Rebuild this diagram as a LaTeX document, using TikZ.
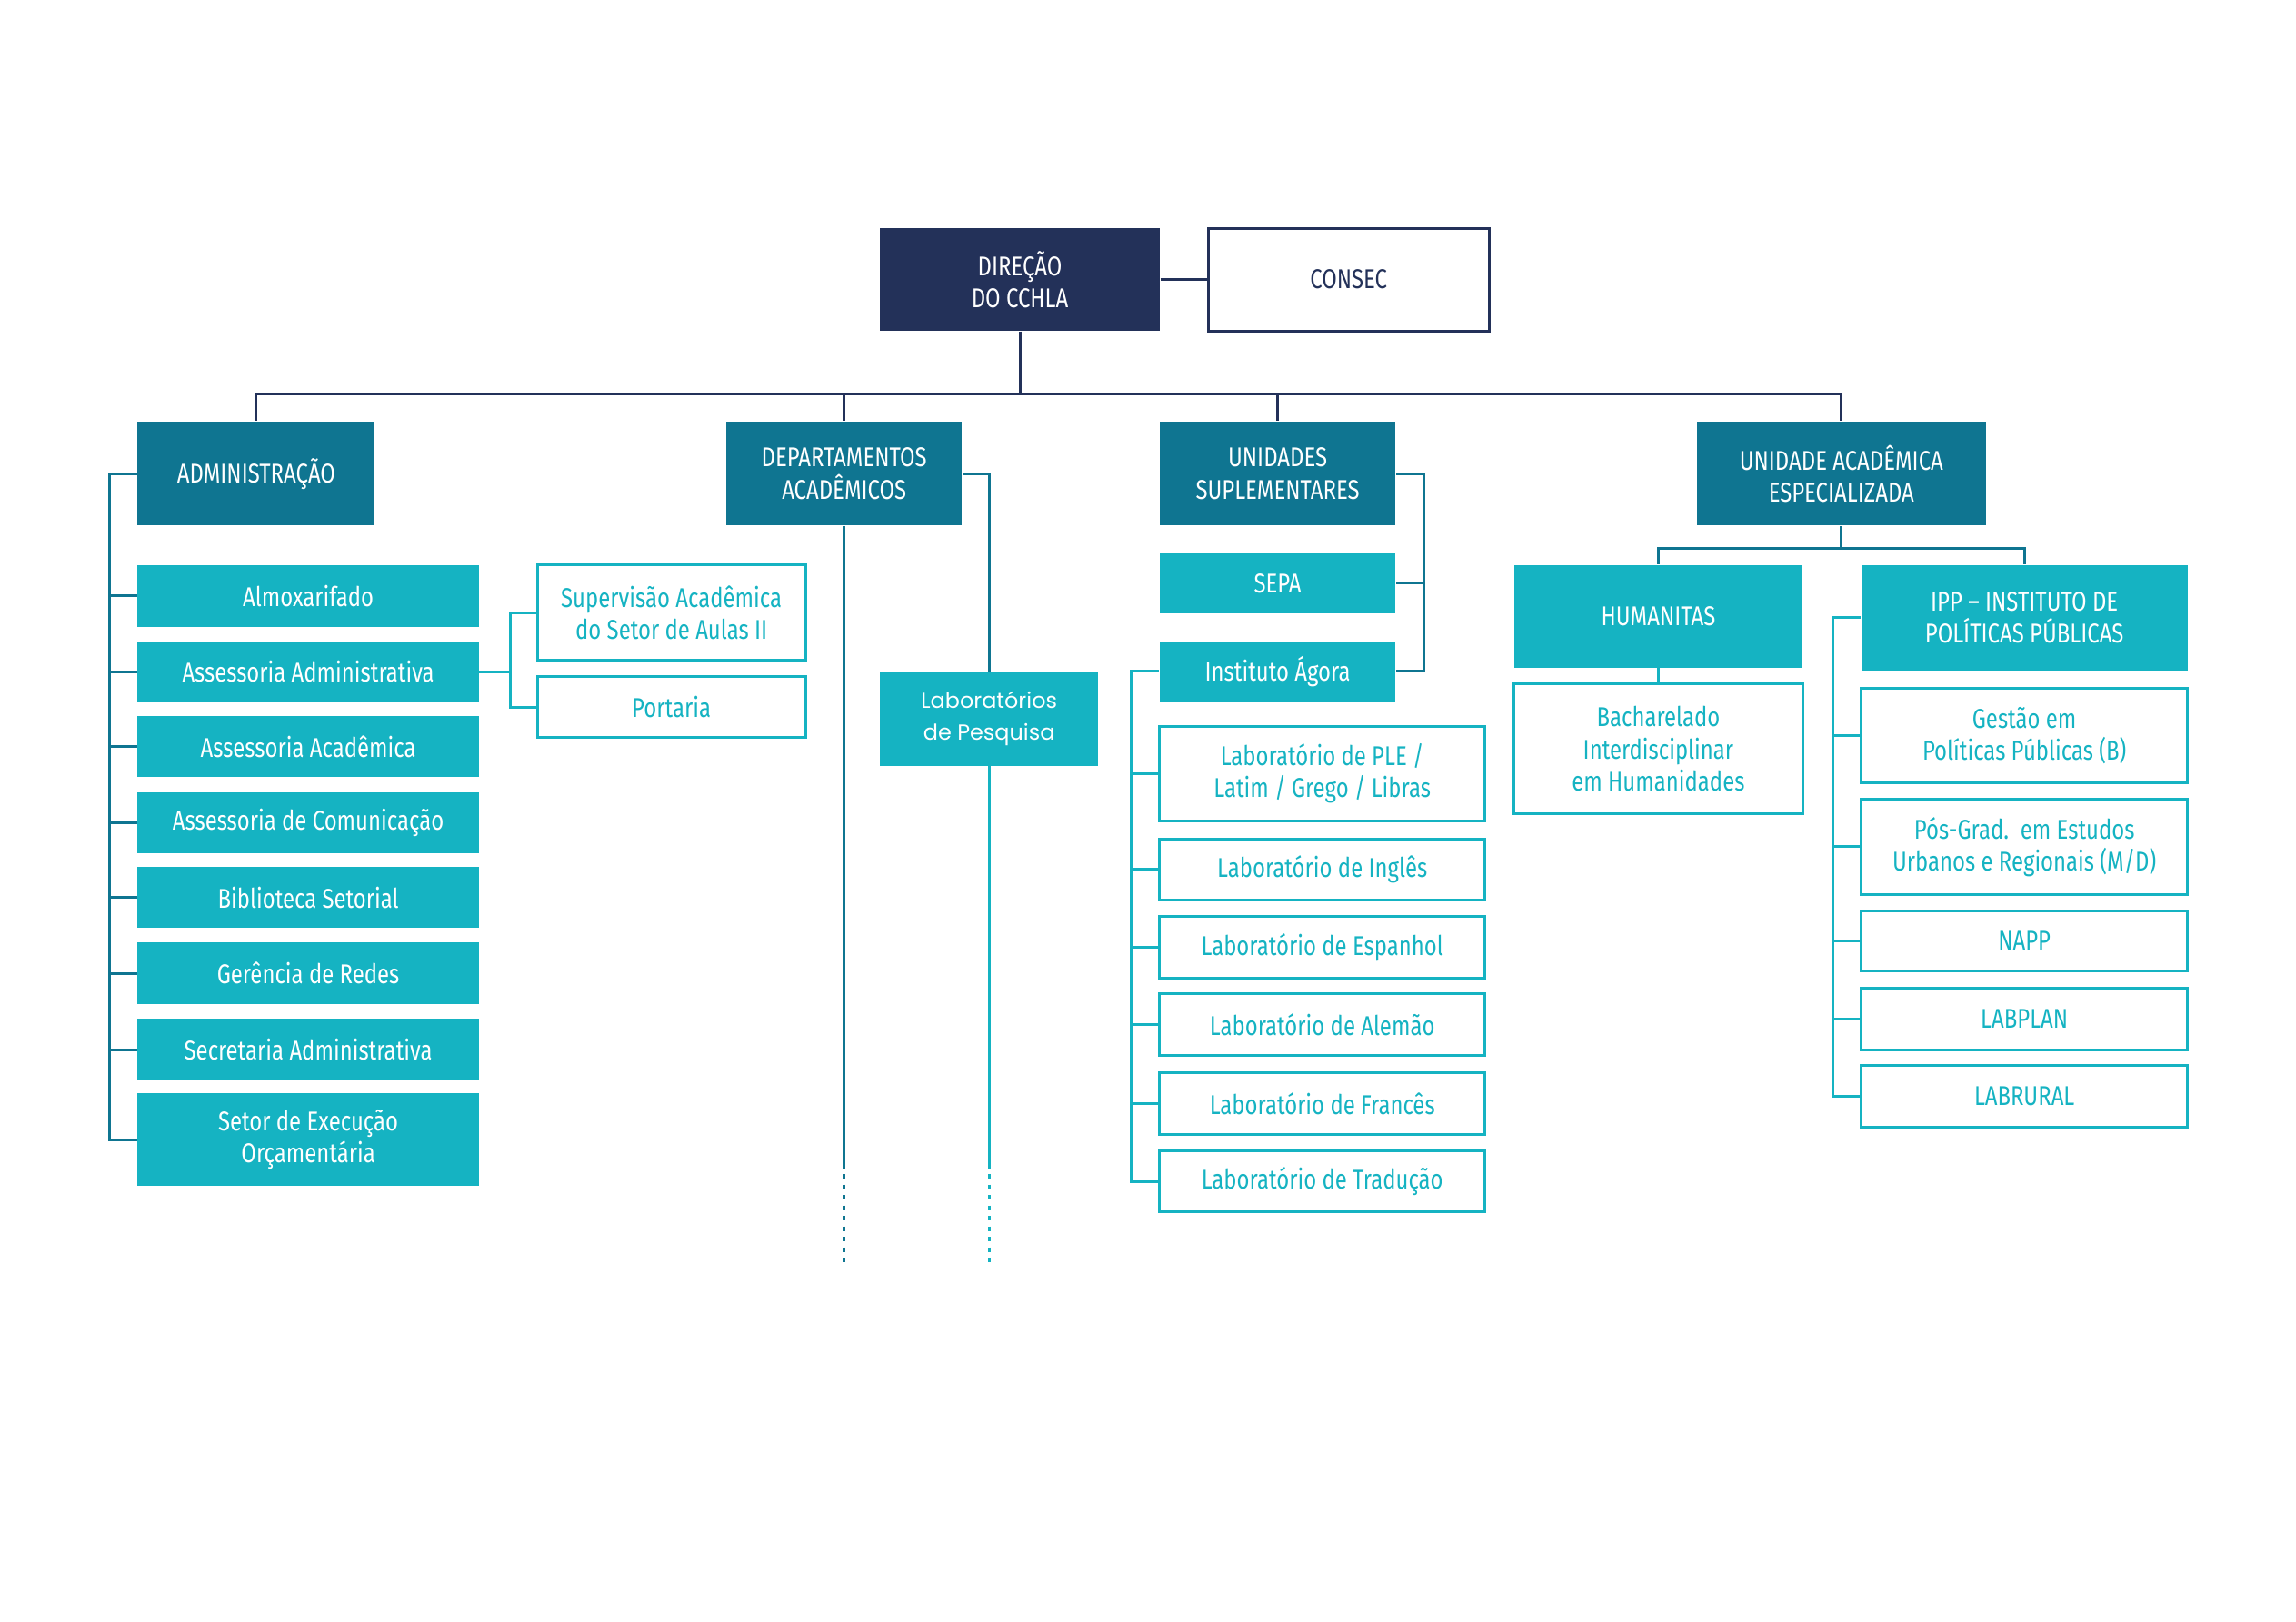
\documentclass[tikz,border=0pt]{standalone}
\usepackage{fontspec}
\setmainfont{Fira Sans}[FakeStretch=0.8]
\newfontfamily\labfont{Poppins}
\usetikzlibrary{positioning}

\definecolor{navy}{HTML}{233159}
\definecolor{petrol}{HTML}{0F7591}
\definecolor{aqua}{HTML}{15B3C2}

\tikzset{
  box/.style 2 args={minimum width=#1*0.18941mm, minimum height=#2*0.18941mm,
    inner sep=0pt, align=center, font=\fontsize{10}{11.8}\selectfont},
  topbox/.style={fill=navy, text=white},
  unitbox/.style={fill=petrol, text=white},
  subbox/.style={fill=aqua, text=white},
  leafbox/.style={draw=aqua, fill=white, text=aqua, line width=1pt},
  navyline/.style={draw=navy, line width=1pt},
  darkline/.style={draw=petrol, line width=1pt},
  lightline/.style={draw=aqua, line width=1pt},
  tail/.style={line width=1pt, dash pattern=on 0.6mm off 0.75mm}
}

\begin{document}
\begin{tikzpicture}[x=0.18941mm, y=-0.18941mm]
\useasboundingbox (0,0) rectangle (1568,1108);

% top
\node[box={191}{70}, topbox] (dir) at (696.5,191) {DIREÇÃO\\DO CCHLA};
\node[box={192}{70}, draw=navy, line width=1pt, text=navy] (consec) at (921,191) {CONSEC};
\draw[navyline] (dir.east) -- (consec.west);

% second level
\node[box={162}{71}, unitbox] (adm) at (175,323.5) {ADMINISTRAÇÃO};
\node[box={161}{71}, unitbox] (dep) at (576.5,323.5) {DEPARTAMENTOS\\ACADÊMICOS};
\node[box={161}{71}, unitbox] (uni) at (872.5,323.5) {UNIDADES\\SUPLEMENTARES};
\node[box={197}{71}, unitbox] (uae) at (1257.5,323.5) {UNIDADE ACADÊMICA\\ESPECIALIZADA};

\coordinate (bus) at (696.5,269);
\draw[navyline] (dir.south) -- (bus);
\foreach \u in {adm,dep,uni,uae}
  \draw[navyline] (bus) -| (\u.north);

% administracao
\node[box={233}{42}, subbox] (alm) at (210.5,407) {Almoxarifado};
\node[box={233}{42}, subbox] (aadm) at (210.5,459) {Assessoria Administrativa};
\node[box={233}{42}, subbox] (aac) at (210.5,510) {Assessoria Acadêmica};
\node[box={233}{42}, subbox] (acom) at (210.5,562) {Assessoria de Comunicação};
\node[box={233}{42}, subbox] (bib) at (210.5,613) {Biblioteca Setorial};
\node[box={233}{42}, subbox] (ger) at (210.5,665) {Gerência de Redes};
\node[box={233}{42}, subbox] (sec) at (210.5,717) {Secretaria Administrativa};
\node[box={233}{63}, subbox] (orc) at (210.5,778.5) {Setor de Execução\\Orçamentária};
\foreach \k in {alm,aadm,aac,acom,bib,ger,sec,orc}
  \draw[darkline] (adm.west) -- ++(-19,0) |- (\k.west);

\node[box={183}{65}, leafbox] (sup) at (458.5,418.5) {Supervisão Acadêmica\\do Setor de Aulas II};
\node[box={183}{42}, leafbox] (port) at (458.5,483) {Portaria};
\draw[lightline] (aadm.east) -- ++(21,0) |- (sup.west);
\draw[lightline] (aadm.east) -- ++(21,0) |- (port.west);

% departamentos
\node[box={149}{64}, subbox, font=\labfont\fontsize{8}{11.8}\selectfont] (lab) at (675.5,491) {Laboratórios\\de Pesquisa};
\coordinate (depa) at (576.5,795);
\coordinate (depb) at (576.5,862);
\coordinate (laba) at (675.5,795);
\coordinate (labb) at (675.5,862);
\draw[darkline] (dep.south) -- (depa);
\draw[tail, petrol] (depa) -- (depb);
\draw[darkline] (dep.east) -- ++(18,0) -| (lab.north);
\draw[lightline] (lab.south) -- (laba);
\draw[tail, aqua] (laba) -- (labb);

% unidades suplementares
\node[box={161}{41}, subbox] (sepa) at (872.5,398.5) {SEPA};
\node[box={161}{41}, subbox] (agora) at (872.5,458.5) {Instituto Ágora};
\draw[darkline] (uni.east) -- ++(19,0) |- (sepa.east);
\draw[darkline] (uni.east) -- ++(19,0) |- (agora.east);

\node[box={222}{65}, leafbox] (ple) at (903,528.5) {Laboratório de PLE /\\Latim / Grego / Libras};
\node[box={222}{42}, leafbox] (ing) at (903,594) {Laboratório de Inglês};
\node[box={222}{42}, leafbox] (esp) at (903,647) {Laboratório de Espanhol};
\node[box={222}{42}, leafbox] (ale) at (903,700) {Laboratório de Alemão};
\node[box={222}{42}, leafbox] (fra) at (903,754) {Laboratório de Francês};
\node[box={222}{42}, leafbox] (tra) at (903,807) {Laboratório de Tradução};
\foreach \k in {ple,ing,esp,ale,fra,tra}
  \draw[lightline] (agora.west) -- ++(-19,0) |- (\k.west);

% unidade academica especializada
\node[box={197}{70}, subbox] (hum) at (1132.5,421) {HUMANITAS};
\node[box={223}{72}, subbox] (ipp) at (1382.5,422) {IPP – INSTITUTO DE\\POLÍTICAS PÚBLICAS};
\draw[darkline] (uae.south) -- ++(0,15) -| (hum.north);
\draw[darkline] (uae.south) -- ++(0,15) -| (ipp.north);

\node[box={197}{89}, leafbox] (bach) at (1132.5,511.5) {Bacharelado\\Interdisciplinar\\em Humanidades};
\draw[lightline] (hum.south) -- (bach.north);

\node[box={223}{65}, leafbox] (gest) at (1382.5,502.5) {Gestão em\\Políticas Públicas (B)};
\node[box={223}{65}, leafbox] (pos) at (1382.5,578.5) {Pós-Grad.\ \ em Estudos\\Urbanos e Regionais (M/D)};
\node[box={223}{41}, leafbox] (napp) at (1382.5,642.5) {NAPP};
\node[box={223}{42}, leafbox] (lplan) at (1382.5,696) {LABPLAN};
\node[box={223}{42}, leafbox] (lrur) at (1382.5,749) {LABRURAL};
\foreach \k in {gest,pos,napp,lplan,lrur}
  \draw[lightline] (ipp.west) -- ++(-19,0) |- (\k.west);
\end{tikzpicture}
\end{document}
